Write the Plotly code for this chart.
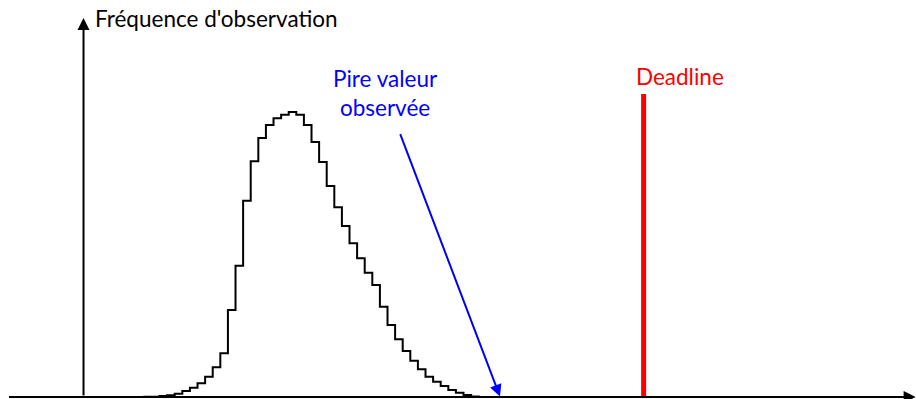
import plotly.graph_objects as go

# Histogram of observed response times: one count per unit-width bin
first_bin = 8
counts = [0.2, 0.3, 1, 1.7, 3.3, 6, 9.3, 13.7, 20.3, 29.7, 43.7,
          87, 131.3, 196.3, 235.7, 259, 272, 278.7, 282.3, 285, 282.3,
          272, 255, 235, 211, 189.7, 171, 153.7, 138.7, 124.3, 112,
          90.3, 72, 57.7, 46, 36.3, 27.7, 20.3, 15.3, 11, 7, 4.3, 2, 0.5]

deadline = 73.7
deadline_height = 303
worst_observed = 54.8

y_title = "Fréquence d'observation"
deadline_label = "Deadline"
worst_label = "Pire valeur<br>observée"

FONT = "Lato"
FONT_SIZE = 22.5
BLUE = "#0000ff"
RED = "#ff0000"

# step outline: start/end on the baseline
edges = [first_bin + i for i in range(len(counts) + 1)]
xs = [edges[0]] + edges
ys = [0] + counts + [counts[-1]]
xs.append(edges[-1])
ys.append(0)

fig = go.Figure()
fig.add_trace(go.Scatter(
    x=xs, y=ys, mode="lines",
    line=dict(color="black", width=2, shape="hv"),
    hoverinfo="skip", showlegend=False,
))

# deadline marker
fig.add_trace(go.Scatter(
    x=[deadline, deadline], y=[0, deadline_height], mode="lines",
    line=dict(color=RED, width=5),
    hoverinfo="skip", showlegend=False,
))

x_min, x_max = -10.99, 109.54
y_min, y_max = -2, 397

annotations = [
    # x axis with arrow
    dict(x=x_max - 0.05, y=0, ax=-10, ay=0, xref="x", yref="y",
         axref="x", ayref="y", text="", showarrow=True,
         arrowhead=2, arrowsize=1.2, arrowwidth=2, arrowcolor="black"),
    # y axis with arrow
    dict(x=0, y=379, ax=0, ay=0, xref="x", yref="y",
         axref="x", ayref="y", text="", showarrow=True,
         arrowhead=2, arrowsize=1.2, arrowwidth=2, arrowcolor="black"),
    # worst observed value pointer
    dict(x=worst_observed, y=0.5, ax=41.6, ay=264.3, xref="x", yref="y",
         axref="x", ayref="y", text="", showarrow=True,
         arrowhead=2, arrowsize=1.2, arrowwidth=2, arrowcolor=BLUE),
    dict(x=1.2, y=379, xref="x", yref="y", text=y_title, showarrow=False,
         xanchor="left", yanchor="middle",
         font=dict(family=FONT, size=FONT_SIZE, color="black")),
    dict(x=78.5, y=321, xref="x", yref="y", text=deadline_label,
         showarrow=False, xanchor="center", yanchor="middle",
         font=dict(family=FONT, size=FONT_SIZE, color=RED)),
    dict(x=39.8, y=304.5, xref="x", yref="y", text=worst_label,
         showarrow=False, xanchor="center", yanchor="middle", align="center",
         font=dict(family=FONT, size=FONT_SIZE, color=BLUE)),
]

fig.update_layout(
    width=916, height=399,
    margin=dict(l=0, r=0, t=0, b=0),
    paper_bgcolor="white", plot_bgcolor="white",
    xaxis=dict(range=[x_min, x_max], visible=False, fixedrange=True),
    yaxis=dict(range=[y_min, y_max], visible=False, fixedrange=True),
    annotations=annotations,
    showlegend=False,
)

fig.write_html("out.html")
